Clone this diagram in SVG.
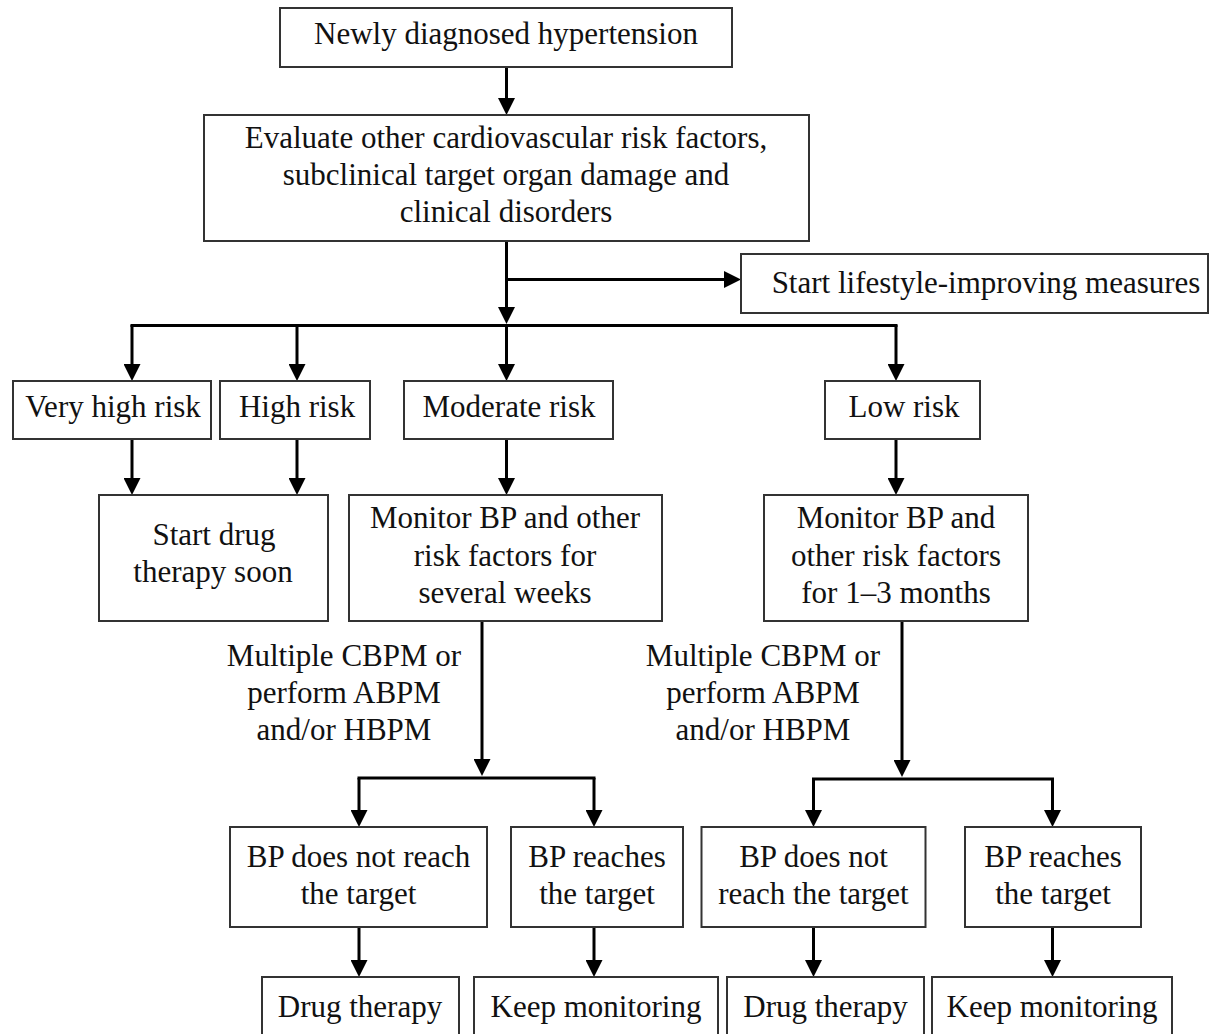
<svg xmlns="http://www.w3.org/2000/svg" width="1210" height="1034" viewBox="0 0 1210 1034">
<style>
.box{fill:#fff;stroke:#333;stroke-width:2}
.t{font-family:"Liberation Serif","Times New Roman",serif;font-size:31px;fill:#111;text-anchor:middle}
.c{fill:none;stroke:#000;stroke-width:3}
</style>
<defs>
<marker id="ah" viewBox="0 0 17 17" markerWidth="17" markerHeight="17" refX="13" refY="8.5" orient="auto" markerUnits="userSpaceOnUse">
<path d="M0,0 L17,8.5 L0,17 z" fill="#000"/>
</marker>
</defs>
<rect width="1210" height="1034" fill="#fff"/>
<g id="connectors">
<line class="c" x1="506.5" y1="67" x2="506.5" y2="111" marker-end="url(#ah)"/>
<line class="c" x1="506.5" y1="241" x2="506.5" y2="320" marker-end="url(#ah)"/>
<line class="c" x1="506.5" y1="279.5" x2="737" y2="279.5" marker-end="url(#ah)"/>
<line class="c" x1="130.5" y1="325.5" x2="897.5" y2="325.5"/>
<line class="c" x1="132" y1="325" x2="132" y2="377" marker-end="url(#ah)"/>
<line class="c" x1="297" y1="325" x2="297" y2="377" marker-end="url(#ah)"/>
<line class="c" x1="506.5" y1="325" x2="506.5" y2="377" marker-end="url(#ah)"/>
<line class="c" x1="896" y1="325" x2="896" y2="377" marker-end="url(#ah)"/>
<line class="c" x1="132" y1="439" x2="132" y2="491" marker-end="url(#ah)"/>
<line class="c" x1="297" y1="439" x2="297" y2="491" marker-end="url(#ah)"/>
<line class="c" x1="506.5" y1="439" x2="506.5" y2="491" marker-end="url(#ah)"/>
<line class="c" x1="896" y1="439" x2="896" y2="491" marker-end="url(#ah)"/>
<line class="c" x1="482" y1="621" x2="482" y2="772" marker-end="url(#ah)"/>
<line class="c" x1="357.5" y1="778" x2="595.5" y2="778"/>
<line class="c" x1="359" y1="778" x2="359" y2="823" marker-end="url(#ah)"/>
<line class="c" x1="594" y1="778" x2="594" y2="823" marker-end="url(#ah)"/>
<line class="c" x1="902" y1="621" x2="902" y2="773" marker-end="url(#ah)"/>
<line class="c" x1="812" y1="779" x2="1054" y2="779"/>
<line class="c" x1="813.5" y1="779" x2="813.5" y2="823" marker-end="url(#ah)"/>
<line class="c" x1="1052.5" y1="779" x2="1052.5" y2="823" marker-end="url(#ah)"/>
<line class="c" x1="359" y1="927" x2="359" y2="973" marker-end="url(#ah)"/>
<line class="c" x1="594" y1="927" x2="594" y2="973" marker-end="url(#ah)"/>
<line class="c" x1="813.5" y1="927" x2="813.5" y2="973" marker-end="url(#ah)"/>
<line class="c" x1="1052.5" y1="927" x2="1052.5" y2="973" marker-end="url(#ah)"/>
</g>
<g id="n-newly"><rect class="box" x="280" y="8" width="452" height="59"/><text class="t" x="506" y="44">Newly diagnosed hypertension</text></g>
<g id="n-evaluate"><rect class="box" x="204" y="115" width="605" height="126"/>
<text class="t" x="506" y="148">Evaluate other cardiovascular risk factors,</text>
<text class="t" x="506" y="185">subclinical target organ damage and</text>
<text class="t" x="506" y="222">clinical disorders</text></g>
<g id="n-lifestyle"><rect class="box" x="741" y="254" width="467" height="59"/><text class="t" x="986" y="293">Start lifestyle-improving measures</text></g>
<g id="n-veryhigh"><rect class="box" x="13" y="381" width="198" height="58"/><text class="t" x="113" y="417">Very high risk</text></g>
<g id="n-high"><rect class="box" x="220" y="381" width="150" height="58"/><text class="t" x="297" y="417">High risk</text></g>
<g id="n-moderate"><rect class="box" x="404" y="381" width="209" height="58"/><text class="t" x="509" y="417">Moderate risk</text></g>
<g id="n-low"><rect class="box" x="825" y="381" width="155" height="58"/><text class="t" x="904" y="417">Low risk</text></g>
<g id="n-startdrug"><rect class="box" x="99" y="495" width="229" height="126"/>
<text class="t" x="214" y="545">Start drug</text>
<text class="t" x="213" y="582">therapy soon</text></g>
<g id="n-monitor-mod"><rect class="box" x="349" y="495" width="313" height="126"/>
<text class="t" x="505" y="528">Monitor BP and other</text>
<text class="t" x="505" y="566">risk factors for</text>
<text class="t" x="505" y="603">several weeks</text></g>
<g id="n-monitor-low"><rect class="box" x="764" y="495" width="264" height="126"/>
<text class="t" x="896" y="528">Monitor BP and</text>
<text class="t" x="896" y="566">other risk factors</text>
<text class="t" x="896" y="603">for 1–3 months</text></g>
<g id="label-left">
<text class="t" x="344" y="666">Multiple CBPM or</text>
<text class="t" x="344" y="703">perform ABPM</text>
<text class="t" x="344" y="740">and/or HBPM</text></g>
<g id="label-right">
<text class="t" x="763" y="666">Multiple CBPM or</text>
<text class="t" x="763" y="703">perform ABPM</text>
<text class="t" x="763" y="740">and/or HBPM</text></g>
<g id="n-notreach-l"><rect class="box" x="230" y="827" width="257" height="100"/>
<text class="t" x="358.5" y="867">BP does not reach</text>
<text class="t" x="358.5" y="904">the target</text></g>
<g id="n-reach-l"><rect class="box" x="511" y="827" width="172" height="100"/>
<text class="t" x="597" y="867">BP reaches</text>
<text class="t" x="597" y="904">the target</text></g>
<g id="n-notreach-r"><rect class="box" x="701.5" y="827" width="224" height="100"/>
<text class="t" x="813.5" y="867">BP does not</text>
<text class="t" x="813.5" y="904">reach the target</text></g>
<g id="n-reach-r"><rect class="box" x="965" y="827" width="176" height="100"/>
<text class="t" x="1053" y="867">BP reaches</text>
<text class="t" x="1053" y="904">the target</text></g>
<g id="n-drug-l"><rect class="box" x="262" y="977" width="197" height="70"/><text class="t" x="360" y="1017">Drug therapy</text></g>
<g id="n-keep-l"><rect class="box" x="474" y="977" width="244" height="70"/><text class="t" x="596" y="1017">Keep monitoring</text></g>
<g id="n-drug-r"><rect class="box" x="727" y="977" width="197" height="70"/><text class="t" x="825.5" y="1017">Drug therapy</text></g>
<g id="n-keep-r"><rect class="box" x="932" y="977" width="240" height="70"/><text class="t" x="1052" y="1017">Keep monitoring</text></g>
</svg>
